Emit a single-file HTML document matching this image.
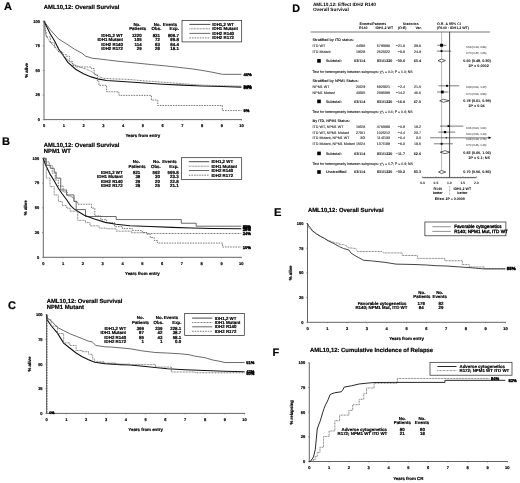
<!DOCTYPE html>
<html><head><meta charset="utf-8"><style>
html,body{margin:0;padding:0;background:#fff;width:520px;height:483px;overflow:hidden}
svg text{stroke-width:0.18px;}
svg{display:block;font-family:"Liberation Sans",sans-serif;will-change:transform;text-rendering:geometricPrecision}
</style></head><body>
<svg width="520" height="483" viewBox="0 0 520 483">
<rect width="520" height="483" fill="#fff"/>
<text x="4.10" y="10.10" font-size="11" text-anchor="start" font-weight="bold" fill="#000" stroke="#000" >A</text>
<text x="43.80" y="9.02" font-size="5.9" text-anchor="start" font-weight="bold" fill="#000" stroke="#000" >AML10,12: Overall Survival</text>
<line x1="44.00" y1="20.70" x2="44.00" y2="119.60" stroke="#666" stroke-width="1.0" />
<line x1="44.00" y1="119.60" x2="242.00" y2="119.60" stroke="#666" stroke-width="1.0" />
<line x1="42.70" y1="119.60" x2="44.00" y2="119.60" stroke="#666" stroke-width="0.6" />
<text x="40.00" y="121.04" font-size="4.0" text-anchor="end" font-weight="bold" fill="#000" stroke="#000" >0</text>
<line x1="42.70" y1="95.00" x2="44.00" y2="95.00" stroke="#666" stroke-width="0.6" />
<text x="40.00" y="96.44" font-size="4.0" text-anchor="end" font-weight="bold" fill="#000" stroke="#000" >25</text>
<line x1="42.70" y1="70.40" x2="44.00" y2="70.40" stroke="#666" stroke-width="0.6" />
<text x="40.00" y="71.84" font-size="4.0" text-anchor="end" font-weight="bold" fill="#000" stroke="#000" >50</text>
<line x1="42.70" y1="45.80" x2="44.00" y2="45.80" stroke="#666" stroke-width="0.6" />
<text x="40.00" y="47.24" font-size="4.0" text-anchor="end" font-weight="bold" fill="#000" stroke="#000" >75</text>
<line x1="42.70" y1="21.20" x2="44.00" y2="21.20" stroke="#666" stroke-width="0.6" />
<text x="40.00" y="22.64" font-size="4.0" text-anchor="end" font-weight="bold" fill="#000" stroke="#000" >100</text>
<line x1="44.00" y1="119.60" x2="44.00" y2="120.60" stroke="#666" stroke-width="0.6" />
<text x="44.00" y="127.04" font-size="4.0" text-anchor="middle" font-weight="bold" fill="#000" stroke="#000" >0</text>
<line x1="63.75" y1="119.60" x2="63.75" y2="120.60" stroke="#666" stroke-width="0.6" />
<text x="63.75" y="127.04" font-size="4.0" text-anchor="middle" font-weight="bold" fill="#000" stroke="#000" >1</text>
<line x1="83.50" y1="119.60" x2="83.50" y2="120.60" stroke="#666" stroke-width="0.6" />
<text x="83.50" y="127.04" font-size="4.0" text-anchor="middle" font-weight="bold" fill="#000" stroke="#000" >2</text>
<line x1="103.25" y1="119.60" x2="103.25" y2="120.60" stroke="#666" stroke-width="0.6" />
<text x="103.25" y="127.04" font-size="4.0" text-anchor="middle" font-weight="bold" fill="#000" stroke="#000" >3</text>
<line x1="123.00" y1="119.60" x2="123.00" y2="120.60" stroke="#666" stroke-width="0.6" />
<text x="123.00" y="127.04" font-size="4.0" text-anchor="middle" font-weight="bold" fill="#000" stroke="#000" >4</text>
<line x1="142.75" y1="119.60" x2="142.75" y2="120.60" stroke="#666" stroke-width="0.6" />
<text x="142.75" y="127.04" font-size="4.0" text-anchor="middle" font-weight="bold" fill="#000" stroke="#000" >5</text>
<line x1="162.50" y1="119.60" x2="162.50" y2="120.60" stroke="#666" stroke-width="0.6" />
<text x="162.50" y="127.04" font-size="4.0" text-anchor="middle" font-weight="bold" fill="#000" stroke="#000" >6</text>
<line x1="182.25" y1="119.60" x2="182.25" y2="120.60" stroke="#666" stroke-width="0.6" />
<text x="182.25" y="127.04" font-size="4.0" text-anchor="middle" font-weight="bold" fill="#000" stroke="#000" >7</text>
<line x1="202.00" y1="119.60" x2="202.00" y2="120.60" stroke="#666" stroke-width="0.6" />
<text x="202.00" y="127.04" font-size="4.0" text-anchor="middle" font-weight="bold" fill="#000" stroke="#000" >8</text>
<line x1="221.75" y1="119.60" x2="221.75" y2="120.60" stroke="#666" stroke-width="0.6" />
<text x="221.75" y="127.04" font-size="4.0" text-anchor="middle" font-weight="bold" fill="#000" stroke="#000" >9</text>
<line x1="241.50" y1="119.60" x2="241.50" y2="120.60" stroke="#666" stroke-width="0.6" />
<text x="241.50" y="127.04" font-size="4.0" text-anchor="middle" font-weight="bold" fill="#000" stroke="#000" >10</text>
<text x="26.60" y="70.40" font-size="4.4" font-weight="bold" stroke="#000" text-anchor="middle" transform="rotate(-90 26.60 70.40)" dy="1.5">% alive</text>
<text x="142.75" y="137.38" font-size="4.4" text-anchor="middle" font-weight="bold" fill="#000" stroke="#000" >Years from entry</text>
<polyline points="44.00,21.20 50.32,29.86 58.62,39.01 66.71,44.03 74.61,49.24 81.92,53.18 85.47,56.13 92.39,58.30 96.93,58.69 108.38,60.07 120.83,61.54 131.10,62.53 151.44,64.59 166.45,65.97 182.25,67.74 192.12,68.92 202.00,70.40 213.06,72.37 222.34,74.34 241.50,74.34" fill="none" stroke="#3a3a3a" stroke-width="0.75" />
<polyline points="44.00,21.20 50.32,34.09 54.47,40.68 58.62,49.05 62.76,54.75 67.90,62.33 75.60,69.22 83.50,73.84 91.20,76.89 98.91,79.16 106.61,80.54 122.01,81.52 140.78,82.80 162.50,84.18 182.25,85.16 202.00,85.95 221.75,86.54 241.50,87.13" fill="none" stroke="#111" stroke-width="1.1" />
<polyline points="44.00,21.20 45.19,31.04 46.17,35.96 50.32,42.36 54.47,46.49 58.62,51.51 63.75,55.64 67.70,59.58 73.62,64.50 79.55,66.96 85.47,68.92 91.40,71.38 95.35,74.34 99.30,76.80 103.25,78.27 113.12,78.96 126.95,79.26 142.75,80.73 162.50,82.21 182.25,83.68 202.00,85.16 221.75,85.65 241.50,86.14" fill="none" stroke="#777" stroke-width="1.0" stroke-dasharray="0.9 0.6"/>
<polyline points="44.00,21.20 45.19,21.20 45.19,31.04 46.17,31.04 46.17,36.94 50.32,36.94 50.32,42.85 54.47,42.85 54.47,47.28 58.62,47.28 58.62,51.70 62.76,51.70 62.76,54.66 66.32,54.66 66.32,56.23 69.67,56.23 69.67,61.54 72.64,61.54 72.64,65.48 75.60,65.48 75.60,66.96 91.20,66.96 91.20,68.53 94.16,68.53 94.16,74.63 97.33,74.63 97.33,80.83 98.91,80.83 98.91,85.36 106.61,85.36 106.61,86.14 106.61,86.14 106.61,91.75 117.47,91.75 117.47,92.34 119.05,92.34 119.05,95.39 151.44,95.39 151.44,95.39 151.44,95.39 151.44,100.02 157.76,100.02 157.76,100.02 157.76,100.02 157.76,105.53 222.34,105.53 222.34,105.53 222.34,105.53 222.34,110.55 241.50,110.55 241.50,110.55" fill="none" stroke="#444" stroke-width="0.7" stroke-dasharray="1.6 1"/>
<text x="243.50" y="75.68" font-size="4.1" text-anchor="start" font-weight="bold" fill="#000" stroke="#000" style="stroke-width:0.35px">46%</text>
<text x="243.50" y="87.68" font-size="4.1" text-anchor="start" font-weight="bold" fill="#000" stroke="#000" style="stroke-width:0.35px">34%</text>
<text x="243.50" y="89.08" font-size="4.1" text-anchor="start" font-weight="bold" fill="#000" stroke="#000" style="stroke-width:0.35px">33%</text>
<text x="243.50" y="111.78" font-size="4.1" text-anchor="start" font-weight="bold" fill="#000" stroke="#000" style="stroke-width:0.35px">9%</text>
<text x="137.00" y="26.18" font-size="4.4" text-anchor="middle" font-weight="bold" fill="#000" stroke="#000" >No.</text>
<text x="137.70" y="30.38" font-size="4.4" text-anchor="middle" font-weight="bold" fill="#000" stroke="#000" >Patients</text>
<text x="157.20" y="26.18" font-size="4.4" text-anchor="middle" font-weight="bold" fill="#000" stroke="#000" >No.</text>
<text x="156.50" y="30.38" font-size="4.4" text-anchor="middle" font-weight="bold" fill="#000" stroke="#000" >Obs.</text>
<text x="170.00" y="26.18" font-size="4.4" text-anchor="middle" font-weight="bold" fill="#000" stroke="#000" >Events</text>
<text x="178.90" y="30.38" font-size="4.4" text-anchor="end" font-weight="bold" fill="#000" stroke="#000" >Exp.</text>
<text x="123.00" y="36.88" font-size="4.4" text-anchor="end" font-weight="bold" fill="#000" stroke="#000" >IDH1,2 WT</text>
<text x="141.70" y="36.88" font-size="4.4" text-anchor="end" font-weight="bold" fill="#000" stroke="#000" >1220</text>
<text x="160.00" y="36.88" font-size="4.4" text-anchor="end" font-weight="bold" fill="#000" stroke="#000" >831</text>
<text x="178.90" y="36.88" font-size="4.4" text-anchor="end" font-weight="bold" fill="#000" stroke="#000" >809.7</text>
<text x="123.00" y="41.21" font-size="4.4" text-anchor="end" font-weight="bold" fill="#000" stroke="#000" >IDH1 Mutant</text>
<text x="141.70" y="41.21" font-size="4.4" text-anchor="end" font-weight="bold" fill="#000" stroke="#000" >105</text>
<text x="160.00" y="41.21" font-size="4.4" text-anchor="end" font-weight="bold" fill="#000" stroke="#000" >72</text>
<text x="178.90" y="41.21" font-size="4.4" text-anchor="end" font-weight="bold" fill="#000" stroke="#000" >69.8</text>
<text x="123.00" y="45.54" font-size="4.4" text-anchor="end" font-weight="bold" fill="#000" stroke="#000" >IDH2 R140</text>
<text x="141.70" y="45.54" font-size="4.4" text-anchor="end" font-weight="bold" fill="#000" stroke="#000" >114</text>
<text x="160.00" y="45.54" font-size="4.4" text-anchor="end" font-weight="bold" fill="#000" stroke="#000" >63</text>
<text x="178.90" y="45.54" font-size="4.4" text-anchor="end" font-weight="bold" fill="#000" stroke="#000" >84.4</text>
<text x="123.00" y="49.87" font-size="4.4" text-anchor="end" font-weight="bold" fill="#000" stroke="#000" >IDH2 R172</text>
<text x="141.70" y="49.87" font-size="4.4" text-anchor="end" font-weight="bold" fill="#000" stroke="#000" >29</text>
<text x="160.00" y="49.87" font-size="4.4" text-anchor="end" font-weight="bold" fill="#000" stroke="#000" >26</text>
<text x="178.90" y="49.87" font-size="4.4" text-anchor="end" font-weight="bold" fill="#000" stroke="#000" >18.1</text>
<rect x="182.00" y="20.40" width="59.70" height="21.50" fill="none" stroke="#222" stroke-width="0.7"/>
<line x1="189.40" y1="24.40" x2="210.30" y2="24.40" stroke="#333" stroke-width="0.9" />
<text x="212.30" y="25.98" font-size="4.4" text-anchor="start" font-weight="bold" fill="#000" stroke="#000" >IDH1,2 WT</text>
<line x1="189.40" y1="28.80" x2="210.30" y2="28.80" stroke="#777" stroke-width="1.0" stroke-dasharray="0.9 0.6"/>
<text x="212.30" y="30.38" font-size="4.4" text-anchor="start" font-weight="bold" fill="#000" stroke="#000" >IDH1 Mutant</text>
<line x1="189.40" y1="33.40" x2="210.30" y2="33.40" stroke="#3a3a3a" stroke-width="0.75" />
<text x="212.30" y="34.98" font-size="4.4" text-anchor="start" font-weight="bold" fill="#000" stroke="#000" >IDH2 R140</text>
<line x1="189.40" y1="37.90" x2="210.30" y2="37.90" stroke="#444" stroke-width="0.7" stroke-dasharray="1.6 1"/>
<text x="212.30" y="39.48" font-size="4.4" text-anchor="start" font-weight="bold" fill="#000" stroke="#000" >IDH2 R172</text>
<text x="2.10" y="145.40" font-size="11" text-anchor="start" font-weight="bold" fill="#000" stroke="#000" >B</text>
<text x="43.75" y="147.12" font-size="5.9" text-anchor="start" font-weight="bold" fill="#000" stroke="#000" >AML10,12: Overall Survival</text>
<text x="43.75" y="153.02" font-size="5.9" text-anchor="start" font-weight="bold" fill="#000" stroke="#000" >NPM1 WT</text>
<line x1="43.30" y1="157.80" x2="43.30" y2="257.30" stroke="#666" stroke-width="1.0" />
<line x1="43.30" y1="257.30" x2="241.80" y2="257.30" stroke="#666" stroke-width="1.0" />
<line x1="42.00" y1="257.30" x2="43.30" y2="257.30" stroke="#666" stroke-width="0.6" />
<text x="39.30" y="258.74" font-size="4.0" text-anchor="end" font-weight="bold" fill="#000" stroke="#000" >0</text>
<line x1="42.00" y1="232.55" x2="43.30" y2="232.55" stroke="#666" stroke-width="0.6" />
<text x="39.30" y="233.99" font-size="4.0" text-anchor="end" font-weight="bold" fill="#000" stroke="#000" >25</text>
<line x1="42.00" y1="207.80" x2="43.30" y2="207.80" stroke="#666" stroke-width="0.6" />
<text x="39.30" y="209.24" font-size="4.0" text-anchor="end" font-weight="bold" fill="#000" stroke="#000" >50</text>
<line x1="42.00" y1="183.05" x2="43.30" y2="183.05" stroke="#666" stroke-width="0.6" />
<text x="39.30" y="184.49" font-size="4.0" text-anchor="end" font-weight="bold" fill="#000" stroke="#000" >75</text>
<line x1="42.00" y1="158.30" x2="43.30" y2="158.30" stroke="#666" stroke-width="0.6" />
<text x="39.30" y="159.74" font-size="4.0" text-anchor="end" font-weight="bold" fill="#000" stroke="#000" >100</text>
<line x1="43.30" y1="257.30" x2="43.30" y2="258.30" stroke="#666" stroke-width="0.6" />
<text x="43.30" y="264.74" font-size="4.0" text-anchor="middle" font-weight="bold" fill="#000" stroke="#000" >0</text>
<line x1="63.10" y1="257.30" x2="63.10" y2="258.30" stroke="#666" stroke-width="0.6" />
<text x="63.10" y="264.74" font-size="4.0" text-anchor="middle" font-weight="bold" fill="#000" stroke="#000" >1</text>
<line x1="82.90" y1="257.30" x2="82.90" y2="258.30" stroke="#666" stroke-width="0.6" />
<text x="82.90" y="264.74" font-size="4.0" text-anchor="middle" font-weight="bold" fill="#000" stroke="#000" >2</text>
<line x1="102.70" y1="257.30" x2="102.70" y2="258.30" stroke="#666" stroke-width="0.6" />
<text x="102.70" y="264.74" font-size="4.0" text-anchor="middle" font-weight="bold" fill="#000" stroke="#000" >3</text>
<line x1="122.50" y1="257.30" x2="122.50" y2="258.30" stroke="#666" stroke-width="0.6" />
<text x="122.50" y="264.74" font-size="4.0" text-anchor="middle" font-weight="bold" fill="#000" stroke="#000" >4</text>
<line x1="142.30" y1="257.30" x2="142.30" y2="258.30" stroke="#666" stroke-width="0.6" />
<text x="142.30" y="264.74" font-size="4.0" text-anchor="middle" font-weight="bold" fill="#000" stroke="#000" >5</text>
<line x1="162.10" y1="257.30" x2="162.10" y2="258.30" stroke="#666" stroke-width="0.6" />
<text x="162.10" y="264.74" font-size="4.0" text-anchor="middle" font-weight="bold" fill="#000" stroke="#000" >6</text>
<line x1="181.90" y1="257.30" x2="181.90" y2="258.30" stroke="#666" stroke-width="0.6" />
<text x="181.90" y="264.74" font-size="4.0" text-anchor="middle" font-weight="bold" fill="#000" stroke="#000" >7</text>
<line x1="201.70" y1="257.30" x2="201.70" y2="258.30" stroke="#666" stroke-width="0.6" />
<text x="201.70" y="264.74" font-size="4.0" text-anchor="middle" font-weight="bold" fill="#000" stroke="#000" >8</text>
<line x1="221.50" y1="257.30" x2="221.50" y2="258.30" stroke="#666" stroke-width="0.6" />
<text x="221.50" y="264.74" font-size="4.0" text-anchor="middle" font-weight="bold" fill="#000" stroke="#000" >9</text>
<line x1="241.30" y1="257.30" x2="241.30" y2="258.30" stroke="#666" stroke-width="0.6" />
<text x="241.30" y="264.74" font-size="4.0" text-anchor="middle" font-weight="bold" fill="#000" stroke="#000" >10</text>
<text x="25.90" y="207.80" font-size="4.4" font-weight="bold" stroke="#000" text-anchor="middle" transform="rotate(-90 25.90 207.80)" dy="1.5">% alive</text>
<text x="142.30" y="275.08" font-size="4.4" text-anchor="middle" font-weight="bold" fill="#000" stroke="#000" >Years from entry</text>
<polyline points="43.30,158.30 46.27,158.30 46.27,158.30 46.27,158.30 46.27,165.23 50.23,165.23 50.23,168.20 54.19,168.20 54.19,172.16 56.17,172.16 56.17,178.10 60.72,178.10 60.72,186.02 60.72,186.02 60.72,189.98 66.66,189.98 66.66,189.98 66.66,189.98 66.66,194.93 73.99,194.93 73.99,194.93 73.99,194.93 73.99,201.37 76.17,201.37 76.17,201.37 76.17,201.37 76.17,209.58 85.47,209.58 85.47,209.58 85.47,209.58 85.47,216.51 116.16,216.51 116.16,216.51 116.16,216.51 116.16,219.58 181.31,219.58 181.31,219.58 181.31,219.58 181.31,223.24 196.16,223.24 196.16,223.24 196.16,223.24 196.16,226.21 241.30,226.21 241.30,226.21" fill="none" stroke="#3a3a3a" stroke-width="0.75" />
<polyline points="43.30,158.30 45.28,164.24 50.03,174.14 54.19,180.77 58.35,188.20 62.31,194.04 66.66,199.78 70.62,205.62 73.99,208.89 79.34,212.25 84.29,215.23 94.38,219.09 105.27,222.35 116.16,224.23 130.02,225.72 150.02,226.51 172.00,227.40 191.80,228.00 211.60,228.49 241.30,228.79" fill="none" stroke="#111" stroke-width="1.1" />
<polyline points="43.30,158.30 45.68,158.30 45.68,161.27 46.27,161.27 46.27,178.10 50.03,178.10 50.03,186.61 54.19,186.61 54.19,194.93 58.35,194.93 58.35,201.46 62.31,201.46 62.31,205.62 66.66,205.62 66.66,208.10 70.03,208.10 70.03,211.17 77.75,211.17 77.75,220.37 85.47,220.37 85.47,222.65 90.03,222.65 90.03,225.82 99.14,225.82 99.14,228.10 106.86,228.10 106.86,228.79 116.16,228.79 116.16,231.16 131.41,231.16 131.41,232.75 146.85,232.75 146.85,233.54 241.30,233.54 241.30,233.54" fill="none" stroke="#777" stroke-width="1.0" stroke-dasharray="0.9 0.6"/>
<polyline points="43.30,158.30 45.28,158.30 45.28,161.86 49.24,161.86 49.24,165.43 52.21,165.43 52.21,173.15 55.18,173.15 55.18,180.08 58.35,180.08 58.35,186.02 63.10,186.02 63.10,191.96 67.06,191.96 67.06,195.92 71.02,195.92 71.02,197.31 73.99,197.31 73.99,201.37 77.75,201.37 77.75,204.24 91.41,204.24 91.41,204.24 91.41,204.24 91.41,208.10 94.78,208.10 94.78,208.10 94.78,208.10 94.78,215.82 100.72,215.82 100.72,219.68 106.66,219.68 106.66,222.65 114.58,222.65 114.58,226.61 122.50,226.61 122.50,228.59 132.40,228.59 132.40,230.57 142.30,230.57 142.30,232.55 146.85,232.55 146.85,234.23 150.22,234.23 150.22,237.50 154.18,237.50 154.18,240.47 157.55,240.47 157.55,243.04 222.49,243.04 222.49,243.04 222.49,243.04 222.49,247.00 241.30,247.00 241.30,247.00" fill="none" stroke="#444" stroke-width="0.7" stroke-dasharray="1.6 1"/>
<text x="242.70" y="227.68" font-size="4.1" text-anchor="start" font-weight="bold" fill="#000" stroke="#000" style="stroke-width:0.35px">32%</text>
<text x="242.70" y="229.38" font-size="4.1" text-anchor="start" font-weight="bold" fill="#000" stroke="#000" style="stroke-width:0.35px">29%</text>
<text x="242.70" y="230.78" font-size="4.1" text-anchor="start" font-weight="bold" fill="#000" stroke="#000" style="stroke-width:0.35px">28%</text>
<text x="242.70" y="235.18" font-size="4.1" text-anchor="start" font-weight="bold" fill="#000" stroke="#000" style="stroke-width:0.35px">24%</text>
<text x="242.70" y="248.98" font-size="4.1" text-anchor="start" font-weight="bold" fill="#000" stroke="#000" style="stroke-width:0.35px">10%</text>
<text x="136.40" y="163.48" font-size="4.4" text-anchor="middle" font-weight="bold" fill="#000" stroke="#000" >No.</text>
<text x="137.10" y="167.78" font-size="4.4" text-anchor="middle" font-weight="bold" fill="#000" stroke="#000" >Patients</text>
<text x="156.60" y="163.48" font-size="4.4" text-anchor="middle" font-weight="bold" fill="#000" stroke="#000" >No.</text>
<text x="155.90" y="167.78" font-size="4.4" text-anchor="middle" font-weight="bold" fill="#000" stroke="#000" >Obs.</text>
<text x="169.40" y="163.48" font-size="4.4" text-anchor="middle" font-weight="bold" fill="#000" stroke="#000" >Events</text>
<text x="178.60" y="167.78" font-size="4.4" text-anchor="end" font-weight="bold" fill="#000" stroke="#000" >Exp.</text>
<text x="122.70" y="173.88" font-size="4.4" text-anchor="end" font-weight="bold" fill="#000" stroke="#000" >IDH1,2 WT</text>
<text x="140.30" y="173.88" font-size="4.4" text-anchor="end" font-weight="bold" fill="#000" stroke="#000" >821</text>
<text x="159.90" y="173.88" font-size="4.4" text-anchor="end" font-weight="bold" fill="#000" stroke="#000" >592</text>
<text x="178.60" y="173.88" font-size="4.4" text-anchor="end" font-weight="bold" fill="#000" stroke="#000" >599.8</text>
<text x="122.70" y="178.21" font-size="4.4" text-anchor="end" font-weight="bold" fill="#000" stroke="#000" >IDH1 Mutant</text>
<text x="140.30" y="178.21" font-size="4.4" text-anchor="end" font-weight="bold" fill="#000" stroke="#000" >38</text>
<text x="159.90" y="178.21" font-size="4.4" text-anchor="end" font-weight="bold" fill="#000" stroke="#000" >30</text>
<text x="178.60" y="178.21" font-size="4.4" text-anchor="end" font-weight="bold" fill="#000" stroke="#000" >23.3</text>
<text x="122.70" y="182.54" font-size="4.4" text-anchor="end" font-weight="bold" fill="#000" stroke="#000" >IDH2 R140</text>
<text x="140.30" y="182.54" font-size="4.4" text-anchor="end" font-weight="bold" fill="#000" stroke="#000" >29</text>
<text x="159.90" y="182.54" font-size="4.4" text-anchor="end" font-weight="bold" fill="#000" stroke="#000" >20</text>
<text x="178.60" y="182.54" font-size="4.4" text-anchor="end" font-weight="bold" fill="#000" stroke="#000" >22.8</text>
<text x="122.70" y="186.87" font-size="4.4" text-anchor="end" font-weight="bold" fill="#000" stroke="#000" >IDH2 R172</text>
<text x="140.30" y="186.87" font-size="4.4" text-anchor="end" font-weight="bold" fill="#000" stroke="#000" >28</text>
<text x="159.90" y="186.87" font-size="4.4" text-anchor="end" font-weight="bold" fill="#000" stroke="#000" >25</text>
<text x="178.60" y="186.87" font-size="4.4" text-anchor="end" font-weight="bold" fill="#000" stroke="#000" >21.1</text>
<rect x="181.40" y="157.70" width="60.30" height="21.90" fill="none" stroke="#222" stroke-width="0.7"/>
<line x1="188.80" y1="161.70" x2="209.20" y2="161.70" stroke="#333" stroke-width="0.9" />
<text x="211.40" y="163.28" font-size="4.4" text-anchor="start" font-weight="bold" fill="#000" stroke="#000" >IDH1,2 WT</text>
<line x1="188.80" y1="166.20" x2="209.20" y2="166.20" stroke="#777" stroke-width="1.0" stroke-dasharray="0.9 0.6"/>
<text x="211.40" y="167.78" font-size="4.4" text-anchor="start" font-weight="bold" fill="#000" stroke="#000" >IDH1 Mutant</text>
<line x1="188.80" y1="170.50" x2="209.20" y2="170.50" stroke="#3a3a3a" stroke-width="0.75" />
<text x="211.40" y="172.08" font-size="4.4" text-anchor="start" font-weight="bold" fill="#000" stroke="#000" >IDH2 R140</text>
<line x1="188.80" y1="175.20" x2="209.20" y2="175.20" stroke="#444" stroke-width="0.7" stroke-dasharray="1.6 1"/>
<text x="211.40" y="176.78" font-size="4.4" text-anchor="start" font-weight="bold" fill="#000" stroke="#000" >IDH2 R172</text>
<text x="8.10" y="309.40" font-size="11" text-anchor="start" font-weight="bold" fill="#000" stroke="#000" >C</text>
<text x="46.70" y="303.12" font-size="5.9" text-anchor="start" font-weight="bold" fill="#000" stroke="#000" >AML10,12: Overall Survival</text>
<text x="46.70" y="309.12" font-size="5.9" text-anchor="start" font-weight="bold" fill="#000" stroke="#000" >NPM1 Mutant</text>
<line x1="46.60" y1="314.30" x2="46.60" y2="413.40" stroke="#666" stroke-width="1.0" />
<line x1="46.60" y1="413.40" x2="245.10" y2="413.40" stroke="#666" stroke-width="1.0" />
<line x1="45.30" y1="413.40" x2="46.60" y2="413.40" stroke="#666" stroke-width="0.6" />
<text x="42.60" y="414.84" font-size="4.0" text-anchor="end" font-weight="bold" fill="#000" stroke="#000" >0</text>
<line x1="45.30" y1="388.75" x2="46.60" y2="388.75" stroke="#666" stroke-width="0.6" />
<text x="42.60" y="390.19" font-size="4.0" text-anchor="end" font-weight="bold" fill="#000" stroke="#000" >25</text>
<line x1="45.30" y1="364.10" x2="46.60" y2="364.10" stroke="#666" stroke-width="0.6" />
<text x="42.60" y="365.54" font-size="4.0" text-anchor="end" font-weight="bold" fill="#000" stroke="#000" >50</text>
<line x1="45.30" y1="339.45" x2="46.60" y2="339.45" stroke="#666" stroke-width="0.6" />
<text x="42.60" y="340.89" font-size="4.0" text-anchor="end" font-weight="bold" fill="#000" stroke="#000" >75</text>
<line x1="45.30" y1="314.80" x2="46.60" y2="314.80" stroke="#666" stroke-width="0.6" />
<text x="42.60" y="316.24" font-size="4.0" text-anchor="end" font-weight="bold" fill="#000" stroke="#000" >100</text>
<line x1="46.60" y1="413.40" x2="46.60" y2="414.40" stroke="#666" stroke-width="0.6" />
<text x="46.60" y="420.84" font-size="4.0" text-anchor="middle" font-weight="bold" fill="#000" stroke="#000" >0</text>
<line x1="66.40" y1="413.40" x2="66.40" y2="414.40" stroke="#666" stroke-width="0.6" />
<text x="66.40" y="420.84" font-size="4.0" text-anchor="middle" font-weight="bold" fill="#000" stroke="#000" >1</text>
<line x1="86.20" y1="413.40" x2="86.20" y2="414.40" stroke="#666" stroke-width="0.6" />
<text x="86.20" y="420.84" font-size="4.0" text-anchor="middle" font-weight="bold" fill="#000" stroke="#000" >2</text>
<line x1="106.00" y1="413.40" x2="106.00" y2="414.40" stroke="#666" stroke-width="0.6" />
<text x="106.00" y="420.84" font-size="4.0" text-anchor="middle" font-weight="bold" fill="#000" stroke="#000" >3</text>
<line x1="125.80" y1="413.40" x2="125.80" y2="414.40" stroke="#666" stroke-width="0.6" />
<text x="125.80" y="420.84" font-size="4.0" text-anchor="middle" font-weight="bold" fill="#000" stroke="#000" >4</text>
<line x1="145.60" y1="413.40" x2="145.60" y2="414.40" stroke="#666" stroke-width="0.6" />
<text x="145.60" y="420.84" font-size="4.0" text-anchor="middle" font-weight="bold" fill="#000" stroke="#000" >5</text>
<line x1="165.40" y1="413.40" x2="165.40" y2="414.40" stroke="#666" stroke-width="0.6" />
<text x="165.40" y="420.84" font-size="4.0" text-anchor="middle" font-weight="bold" fill="#000" stroke="#000" >6</text>
<line x1="185.20" y1="413.40" x2="185.20" y2="414.40" stroke="#666" stroke-width="0.6" />
<text x="185.20" y="420.84" font-size="4.0" text-anchor="middle" font-weight="bold" fill="#000" stroke="#000" >7</text>
<line x1="205.00" y1="413.40" x2="205.00" y2="414.40" stroke="#666" stroke-width="0.6" />
<text x="205.00" y="420.84" font-size="4.0" text-anchor="middle" font-weight="bold" fill="#000" stroke="#000" >8</text>
<line x1="224.80" y1="413.40" x2="224.80" y2="414.40" stroke="#666" stroke-width="0.6" />
<text x="224.80" y="420.84" font-size="4.0" text-anchor="middle" font-weight="bold" fill="#000" stroke="#000" >9</text>
<line x1="244.60" y1="413.40" x2="244.60" y2="414.40" stroke="#666" stroke-width="0.6" />
<text x="244.60" y="420.84" font-size="4.0" text-anchor="middle" font-weight="bold" fill="#000" stroke="#000" >10</text>
<text x="29.20" y="364.10" font-size="4.4" font-weight="bold" stroke="#000" text-anchor="middle" transform="rotate(-90 29.20 364.10)" dy="1.5">% alive</text>
<text x="145.60" y="431.18" font-size="4.4" text-anchor="middle" font-weight="bold" fill="#000" stroke="#000" >Years from entry</text>
<polyline points="46.60,314.80 47.00,317.76 51.15,320.72 57.49,327.52 63.63,330.58 69.77,333.73 76.10,336.20 82.24,338.66 88.58,341.22 92.14,341.82 95.90,345.46 105.01,346.84 111.35,347.04 129.96,348.72 141.64,350.79 154.91,352.47 167.38,353.06 180.05,353.75 189.16,354.73 195.10,356.21 205.00,357.69 212.52,359.96 218.86,361.14 225.00,362.52 244.60,362.52" fill="none" stroke="#3a3a3a" stroke-width="0.75" />
<polyline points="46.60,314.80 47.00,319.53 51.15,325.74 57.49,333.14 63.63,343.10 69.77,348.03 76.10,352.96 82.24,356.70 88.58,359.76 94.71,362.33 105.01,363.61 120.85,364.59 129.96,364.99 145.60,366.56 167.38,368.73 185.20,369.72 205.00,370.51 224.80,371.20 244.60,371.79" fill="none" stroke="#111" stroke-width="1.1" />
<polyline points="46.60,314.80 47.00,314.80 47.00,319.73 51.15,319.73 51.15,326.14 57.49,326.14 57.49,333.53 63.63,333.53 63.63,342.90 69.77,342.90 69.77,345.46 76.10,345.46 76.10,350.49 82.24,350.49 82.24,351.68 88.58,351.68 88.58,354.24 92.14,354.24 92.14,355.52 92.73,355.52 92.73,359.17 94.71,359.17 94.71,361.73 104.02,361.73 104.02,363.11 115.90,363.11 115.90,364.10 129.96,364.10 129.96,364.59 155.50,364.59 155.50,367.06 171.34,367.06 171.34,368.04 171.34,368.04 171.34,371.99 195.10,371.99 195.10,372.78 244.60,372.78 244.60,372.97" fill="none" stroke="#777" stroke-width="1.0" stroke-dasharray="0.9 0.6"/>
<line x1="47.00" y1="314.80" x2="47.00" y2="413.40" stroke="#333" stroke-width="0.7" stroke-dasharray="1.6 1"/>
<text x="49.30" y="413.53" font-size="3.7" text-anchor="start" font-weight="bold" fill="#000" stroke="#000" style="stroke-width:0.35px">0%</text>
<text x="246.30" y="363.98" font-size="4.1" text-anchor="start" font-weight="bold" fill="#000" stroke="#000" style="stroke-width:0.35px">51%</text>
<text x="246.30" y="372.78" font-size="4.1" text-anchor="start" font-weight="bold" fill="#000" stroke="#000" style="stroke-width:0.35px">42%</text>
<text x="246.30" y="375.08" font-size="4.1" text-anchor="start" font-weight="bold" fill="#000" stroke="#000" style="stroke-width:0.35px">40%</text>
<text x="140.40" y="319.18" font-size="4.4" text-anchor="middle" font-weight="bold" fill="#000" stroke="#000" >No.</text>
<text x="140.50" y="323.78" font-size="4.4" text-anchor="middle" font-weight="bold" fill="#000" stroke="#000" >Patients</text>
<text x="159.40" y="319.18" font-size="4.4" text-anchor="middle" font-weight="bold" fill="#000" stroke="#000" >No.</text>
<text x="158.50" y="323.78" font-size="4.4" text-anchor="middle" font-weight="bold" fill="#000" stroke="#000" >Obs.</text>
<text x="170.90" y="319.18" font-size="4.4" text-anchor="middle" font-weight="bold" fill="#000" stroke="#000" >Events</text>
<text x="181.50" y="323.78" font-size="4.4" text-anchor="end" font-weight="bold" fill="#000" stroke="#000" >Exp.</text>
<text x="126.10" y="330.08" font-size="4.4" text-anchor="end" font-weight="bold" fill="#000" stroke="#000" >IDH1,2 WT</text>
<text x="144.00" y="330.08" font-size="4.4" text-anchor="end" font-weight="bold" fill="#000" stroke="#000" >399</text>
<text x="162.50" y="330.08" font-size="4.4" text-anchor="end" font-weight="bold" fill="#000" stroke="#000" >239</text>
<text x="181.20" y="330.08" font-size="4.4" text-anchor="end" font-weight="bold" fill="#000" stroke="#000" >228.1</text>
<text x="126.10" y="334.38" font-size="4.4" text-anchor="end" font-weight="bold" fill="#000" stroke="#000" >IDH1 Mutant</text>
<text x="144.00" y="334.38" font-size="4.4" text-anchor="end" font-weight="bold" fill="#000" stroke="#000" >67</text>
<text x="162.50" y="334.38" font-size="4.4" text-anchor="end" font-weight="bold" fill="#000" stroke="#000" >42</text>
<text x="181.20" y="334.38" font-size="4.4" text-anchor="end" font-weight="bold" fill="#000" stroke="#000" >38.7</text>
<text x="126.10" y="338.68" font-size="4.4" text-anchor="end" font-weight="bold" fill="#000" stroke="#000" >IDH2 R140</text>
<text x="144.00" y="338.68" font-size="4.4" text-anchor="end" font-weight="bold" fill="#000" stroke="#000" >85</text>
<text x="162.50" y="338.68" font-size="4.4" text-anchor="end" font-weight="bold" fill="#000" stroke="#000" >43</text>
<text x="181.20" y="338.68" font-size="4.4" text-anchor="end" font-weight="bold" fill="#000" stroke="#000" >58.1</text>
<text x="126.10" y="342.98" font-size="4.4" text-anchor="end" font-weight="bold" fill="#000" stroke="#000" >IDH2 R172</text>
<text x="144.00" y="342.98" font-size="4.4" text-anchor="end" font-weight="bold" fill="#000" stroke="#000" >1</text>
<text x="162.50" y="342.98" font-size="4.4" text-anchor="end" font-weight="bold" fill="#000" stroke="#000" >1</text>
<text x="181.20" y="342.98" font-size="4.4" text-anchor="end" font-weight="bold" fill="#000" stroke="#000" >0.0</text>
<rect x="184.70" y="313.40" width="59.60" height="22.20" fill="none" stroke="#222" stroke-width="0.7"/>
<line x1="192.10" y1="318.10" x2="212.30" y2="318.10" stroke="#333" stroke-width="0.9" />
<text x="214.70" y="319.68" font-size="4.4" text-anchor="start" font-weight="bold" fill="#000" stroke="#000" >IDH1,2 WT</text>
<line x1="192.10" y1="322.50" x2="212.30" y2="322.50" stroke="#777" stroke-width="1.0" stroke-dasharray="0.9 0.6"/>
<text x="214.70" y="324.08" font-size="4.4" text-anchor="start" font-weight="bold" fill="#000" stroke="#000" >IDH1 Mutant</text>
<line x1="192.10" y1="326.80" x2="212.30" y2="326.80" stroke="#3a3a3a" stroke-width="0.75" />
<text x="214.70" y="328.38" font-size="4.4" text-anchor="start" font-weight="bold" fill="#000" stroke="#000" >IDH2 R140</text>
<line x1="192.10" y1="331.30" x2="212.30" y2="331.30" stroke="#444" stroke-width="0.7" stroke-dasharray="1.6 1"/>
<text x="214.70" y="332.88" font-size="4.4" text-anchor="start" font-weight="bold" fill="#000" stroke="#000" >IDH2 R172</text>
<text x="292.20" y="11.70" font-size="10.8" text-anchor="start" font-weight="bold" fill="#000" stroke="#000" >D</text>
<text x="312.90" y="5.91" font-size="4.75" text-anchor="start" font-weight="bold" fill="#000" stroke="none" >AML10,12: Effect IDH2 R140</text>
<text x="312.90" y="10.71" font-size="4.75" text-anchor="start" font-weight="bold" fill="#000" stroke="none" >Overall Survival</text>
<text x="372.90" y="24.80" font-size="3.6" text-anchor="middle" font-weight="bold" fill="#000" stroke="none" >Events/Patients</text>
<text x="358.90" y="28.60" font-size="3.6" text-anchor="start" font-weight="bold" fill="#000" stroke="none" >R140</text>
<text x="375.40" y="28.60" font-size="3.6" text-anchor="start" font-weight="bold" fill="#000" stroke="none" >IDH1,2 WT</text>
<text x="410.80" y="24.80" font-size="3.6" text-anchor="middle" font-weight="bold" fill="#000" stroke="none" >Statistics</text>
<text x="397.70" y="28.60" font-size="3.6" text-anchor="start" font-weight="bold" fill="#000" stroke="none" >(O-E)</text>
<text x="415.40" y="28.60" font-size="3.6" text-anchor="start" font-weight="bold" fill="#000" stroke="none" >Var.</text>
<text x="437.00" y="25.10" font-size="3.6" text-anchor="start" font-weight="bold" fill="#000" stroke="none" >O.R. &amp; 95% CI</text>
<text x="437.00" y="29.30" font-size="3.6" text-anchor="start" font-weight="bold" fill="#000" stroke="none" >(R140 : IDH1,2 WT)</text>
<line x1="310.50" y1="32.00" x2="490.00" y2="32.00" stroke="#555" stroke-width="0.8" />
<line x1="441.60" y1="32.00" x2="441.60" y2="170.50" stroke="#888" stroke-width="0.6" />
<line x1="449.60" y1="31.80" x2="449.60" y2="177.70" stroke="#222" stroke-width="0.8" />
<text x="312.60" y="41.03" font-size="3.7" text-anchor="start" font-weight="bold" fill="#000" stroke="none" >Stratified by ITD status:</text>
<text x="312.60" y="47.41" font-size="3.65" text-anchor="start" font-weight="normal" fill="#333" stroke="#333" style="stroke-width:0.12px">ITD WT</text>
<text x="365.20" y="47.41" font-size="3.65" text-anchor="end" font-weight="normal" fill="#333" stroke="#333" style="stroke-width:0.12px">44/86</text>
<text x="390.00" y="47.41" font-size="3.65" text-anchor="end" font-weight="normal" fill="#333" stroke="#333" style="stroke-width:0.12px">579/896</text>
<text x="405.00" y="47.41" font-size="3.65" text-anchor="end" font-weight="normal" fill="#333" stroke="#333" style="stroke-width:0.12px">−21.6</text>
<text x="421.00" y="47.41" font-size="3.65" text-anchor="end" font-weight="normal" fill="#333" stroke="#333" style="stroke-width:0.12px">39.6</text>
<text x="312.60" y="52.81" font-size="3.65" text-anchor="start" font-weight="normal" fill="#333" stroke="#333" style="stroke-width:0.12px">ITD Mutant</text>
<text x="365.20" y="52.81" font-size="3.65" text-anchor="end" font-weight="normal" fill="#333" stroke="#333" style="stroke-width:0.12px">19/28</text>
<text x="390.00" y="52.81" font-size="3.65" text-anchor="end" font-weight="normal" fill="#333" stroke="#333" style="stroke-width:0.12px">252/322</text>
<text x="405.00" y="52.81" font-size="3.65" text-anchor="end" font-weight="normal" fill="#333" stroke="#333" style="stroke-width:0.12px">−8.8</text>
<text x="421.00" y="52.81" font-size="3.65" text-anchor="end" font-weight="normal" fill="#333" stroke="#333" style="stroke-width:0.12px">24.9</text>
<rect x="317.20" y="59.10" width="3.60" height="3.60" fill="#000"/>
<text x="325.90" y="62.23" font-size="3.7" text-anchor="start" font-weight="bold" fill="#000" stroke="none" >Subtotal:</text>
<text x="365.20" y="62.23" font-size="3.7" text-anchor="end" font-weight="bold" fill="#000" stroke="none" >63/114</text>
<text x="392.30" y="62.23" font-size="3.7" text-anchor="end" font-weight="bold" fill="#000" stroke="none" >831/1220</text>
<text x="405.00" y="62.23" font-size="3.7" text-anchor="end" font-weight="bold" fill="#000" stroke="none" >−30.6</text>
<text x="421.00" y="62.23" font-size="3.7" text-anchor="end" font-weight="bold" fill="#000" stroke="none" >63.4</text>
<text x="312.60" y="72.96" font-size="3.5" text-anchor="start" font-weight="normal" fill="#333" stroke="#333" style="stroke-width:0.12px">Test for heterogeneity between subgroups: χ²₁ = 0.0; P = 1.0; NS</text>
<text x="312.60" y="82.13" font-size="3.7" text-anchor="start" font-weight="bold" fill="#000" stroke="none" >Stratified by NPM1 Status:</text>
<text x="312.60" y="88.41" font-size="3.65" text-anchor="start" font-weight="normal" fill="#333" stroke="#333" style="stroke-width:0.12px">NPM1 WT</text>
<text x="365.20" y="88.41" font-size="3.65" text-anchor="end" font-weight="normal" fill="#333" stroke="#333" style="stroke-width:0.12px">20/29</text>
<text x="390.00" y="88.41" font-size="3.65" text-anchor="end" font-weight="normal" fill="#333" stroke="#333" style="stroke-width:0.12px">592/821</text>
<text x="405.00" y="88.41" font-size="3.65" text-anchor="end" font-weight="normal" fill="#333" stroke="#333" style="stroke-width:0.12px">−2.4</text>
<text x="421.00" y="88.41" font-size="3.65" text-anchor="end" font-weight="normal" fill="#333" stroke="#333" style="stroke-width:0.12px">21.5</text>
<text x="312.60" y="93.81" font-size="3.65" text-anchor="start" font-weight="normal" fill="#333" stroke="#333" style="stroke-width:0.12px">NPM1 Mutant</text>
<text x="365.20" y="93.81" font-size="3.65" text-anchor="end" font-weight="normal" fill="#333" stroke="#333" style="stroke-width:0.12px">43/85</text>
<text x="390.00" y="93.81" font-size="3.65" text-anchor="end" font-weight="normal" fill="#333" stroke="#333" style="stroke-width:0.12px">239/399</text>
<text x="405.00" y="93.81" font-size="3.65" text-anchor="end" font-weight="normal" fill="#333" stroke="#333" style="stroke-width:0.12px">−14.2</text>
<text x="421.00" y="93.81" font-size="3.65" text-anchor="end" font-weight="normal" fill="#333" stroke="#333" style="stroke-width:0.12px">45.5</text>
<rect x="317.20" y="99.60" width="3.60" height="3.60" fill="#000"/>
<text x="325.90" y="102.73" font-size="3.7" text-anchor="start" font-weight="bold" fill="#000" stroke="none" >Subtotal:</text>
<text x="365.20" y="102.73" font-size="3.7" text-anchor="end" font-weight="bold" fill="#000" stroke="none" >63/114</text>
<text x="392.30" y="102.73" font-size="3.7" text-anchor="end" font-weight="bold" fill="#000" stroke="none" >831/1220</text>
<text x="405.00" y="102.73" font-size="3.7" text-anchor="end" font-weight="bold" fill="#000" stroke="none" >−16.6</text>
<text x="421.00" y="102.73" font-size="3.7" text-anchor="end" font-weight="bold" fill="#000" stroke="none" >67.0</text>
<text x="312.60" y="113.26" font-size="3.5" text-anchor="start" font-weight="normal" fill="#333" stroke="#333" style="stroke-width:0.12px">Test for heterogeneity between subgroups: χ²₁ = 0.6; P = 0.4; NS</text>
<text x="312.60" y="121.83" font-size="3.7" text-anchor="start" font-weight="bold" fill="#000" stroke="none" >By ITD, NPM1 Status:</text>
<text x="312.60" y="128.11" font-size="3.65" text-anchor="start" font-weight="normal" fill="#333" stroke="#333" style="stroke-width:0.12px">ITD WT, NPM1 WT</text>
<text x="365.20" y="128.11" font-size="3.65" text-anchor="end" font-weight="normal" fill="#333" stroke="#333" style="stroke-width:0.12px">16/26</text>
<text x="390.00" y="128.11" font-size="3.65" text-anchor="end" font-weight="normal" fill="#333" stroke="#333" style="stroke-width:0.12px">476/688</text>
<text x="405.00" y="128.11" font-size="3.65" text-anchor="end" font-weight="normal" fill="#333" stroke="#333" style="stroke-width:0.12px">−0.9</text>
<text x="421.00" y="128.11" font-size="3.65" text-anchor="end" font-weight="normal" fill="#333" stroke="#333" style="stroke-width:0.12px">18.2</text>
<text x="312.60" y="133.81" font-size="3.65" text-anchor="start" font-weight="normal" fill="#333" stroke="#333" style="stroke-width:0.12px">ITD WT, NPM1 Mutant</text>
<text x="365.20" y="133.81" font-size="3.65" text-anchor="end" font-weight="normal" fill="#333" stroke="#333" style="stroke-width:0.12px">27/61</text>
<text x="390.00" y="133.81" font-size="3.65" text-anchor="end" font-weight="normal" fill="#333" stroke="#333" style="stroke-width:0.12px">102/212</text>
<text x="405.00" y="133.81" font-size="3.65" text-anchor="end" font-weight="normal" fill="#333" stroke="#333" style="stroke-width:0.12px">−4.4</text>
<text x="421.00" y="133.81" font-size="3.65" text-anchor="end" font-weight="normal" fill="#333" stroke="#333" style="stroke-width:0.12px">23.7</text>
<text x="312.60" y="139.41" font-size="3.65" text-anchor="start" font-weight="normal" fill="#333" stroke="#333" style="stroke-width:0.12px">ITD Mutant, NPM1 WT</text>
<text x="365.20" y="139.41" font-size="3.65" text-anchor="end" font-weight="normal" fill="#333" stroke="#333" style="stroke-width:0.12px">3/3</text>
<text x="390.00" y="139.41" font-size="3.65" text-anchor="end" font-weight="normal" fill="#333" stroke="#333" style="stroke-width:0.12px">114/133</text>
<text x="405.00" y="139.41" font-size="3.65" text-anchor="end" font-weight="normal" fill="#333" stroke="#333" style="stroke-width:0.12px">−0.4</text>
<text x="421.00" y="139.41" font-size="3.65" text-anchor="end" font-weight="normal" fill="#333" stroke="#333" style="stroke-width:0.12px">3.0</text>
<text x="312.60" y="145.11" font-size="3.65" text-anchor="start" font-weight="normal" fill="#333" stroke="#333" style="stroke-width:0.12px">ITD Mutant, NPM1 Mutant</text>
<text x="365.20" y="145.11" font-size="3.65" text-anchor="end" font-weight="normal" fill="#333" stroke="#333" style="stroke-width:0.12px">15/24</text>
<text x="390.00" y="145.11" font-size="3.65" text-anchor="end" font-weight="normal" fill="#333" stroke="#333" style="stroke-width:0.12px">137/189</text>
<text x="405.00" y="145.11" font-size="3.65" text-anchor="end" font-weight="normal" fill="#333" stroke="#333" style="stroke-width:0.12px">−6.0</text>
<text x="421.00" y="145.11" font-size="3.65" text-anchor="end" font-weight="normal" fill="#333" stroke="#333" style="stroke-width:0.12px">18.5</text>
<rect x="317.20" y="151.60" width="3.60" height="3.60" fill="#000"/>
<text x="325.90" y="154.73" font-size="3.7" text-anchor="start" font-weight="bold" fill="#000" stroke="none" >Subtotal:</text>
<text x="365.20" y="154.73" font-size="3.7" text-anchor="end" font-weight="bold" fill="#000" stroke="none" >63/114</text>
<text x="392.30" y="154.73" font-size="3.7" text-anchor="end" font-weight="bold" fill="#000" stroke="none" >831/1220</text>
<text x="405.00" y="154.73" font-size="3.7" text-anchor="end" font-weight="bold" fill="#000" stroke="none" >−11.7</text>
<text x="421.00" y="154.73" font-size="3.7" text-anchor="end" font-weight="bold" fill="#000" stroke="none" >62.6</text>
<text x="312.60" y="165.46" font-size="3.5" text-anchor="start" font-weight="normal" fill="#333" stroke="#333" style="stroke-width:0.12px">Test for heterogeneity between subgroups: χ²₃ = 0.7; P = 0.9; NS</text>
<rect x="317.20" y="170.20" width="3.60" height="3.60" fill="#000"/>
<text x="325.90" y="173.33" font-size="3.7" text-anchor="start" font-weight="bold" fill="#000" stroke="none" >Unstratified</text>
<text x="365.20" y="173.33" font-size="3.7" text-anchor="end" font-weight="bold" fill="#000" stroke="none" >63/114</text>
<text x="392.30" y="173.33" font-size="3.7" text-anchor="end" font-weight="bold" fill="#000" stroke="none" >831/1220</text>
<text x="405.00" y="173.33" font-size="3.7" text-anchor="end" font-weight="bold" fill="#000" stroke="none" >−30.2</text>
<text x="421.00" y="173.33" font-size="3.7" text-anchor="end" font-weight="bold" fill="#000" stroke="none" >83.3</text>
<line x1="437.30" y1="45.30" x2="446.50" y2="45.30" stroke="#222" stroke-width="0.6" />
<rect x="440.10" y="43.80" width="3.00" height="3.00" fill="#000"/>
<text x="466.00" y="47.91" font-size="2.8" text-anchor="start" font-weight="bold" fill="#555" stroke="none" >0.58 (0.39, 0.86)</text>
<line x1="436.80" y1="51.10" x2="451.20" y2="51.10" stroke="#222" stroke-width="0.6" />
<rect x="440.55" y="50.15" width="1.90" height="1.90" fill="#000"/>
<text x="466.00" y="53.71" font-size="2.8" text-anchor="start" font-weight="bold" fill="#555" stroke="none" >0.70 (0.47, 1.05)</text>
<polygon points="438.00,60.60 441.60,59.10 445.40,60.60 441.60,62.10" fill="#fff" stroke="#000" stroke-width="0.6"/>
<text x="463.30" y="61.95" font-size="3.75" text-anchor="start" font-weight="bold" fill="#000" stroke="none" >0.60 (0.48, 0.80)</text>
<text x="468.50" y="66.95" font-size="3.75" text-anchor="start" font-weight="bold" fill="#000" stroke="none" >2P = 0.0002</text>
<line x1="438.50" y1="85.80" x2="459.20" y2="85.80" stroke="#222" stroke-width="0.6" />
<rect x="446.05" y="84.85" width="1.90" height="1.90" fill="#000"/>
<text x="466.00" y="88.41" font-size="2.8" text-anchor="start" font-weight="bold" fill="#555" stroke="none" >0.89 (0.56, 1.37)</text>
<line x1="437.00" y1="92.00" x2="448.50" y2="92.00" stroke="#222" stroke-width="0.6" />
<rect x="440.90" y="90.60" width="2.80" height="2.80" fill="#000"/>
<text x="466.00" y="94.61" font-size="2.8" text-anchor="start" font-weight="bold" fill="#555" stroke="none" >0.73 (0.55, 0.96)</text>
<polygon points="439.70,100.80 443.50,99.30 449.20,100.80 443.50,102.30" fill="#fff" stroke="#000" stroke-width="0.6"/>
<text x="463.30" y="102.15" font-size="3.75" text-anchor="start" font-weight="bold" fill="#000" stroke="none" >0.78 (0.61, 0.99)</text>
<text x="468.50" y="107.15" font-size="3.75" text-anchor="start" font-weight="bold" fill="#000" stroke="none" >2P = 0.04</text>
<line x1="440.00" y1="126.10" x2="463.30" y2="126.10" stroke="#222" stroke-width="0.6" />
<rect x="447.55" y="125.15" width="1.90" height="1.90" fill="#000"/>
<text x="466.00" y="128.71" font-size="2.8" text-anchor="start" font-weight="bold" fill="#555" stroke="none" >0.95 (0.60, 1.51)</text>
<line x1="438.20" y1="132.10" x2="455.30" y2="132.10" stroke="#222" stroke-width="0.6" />
<rect x="443.90" y="131.00" width="2.20" height="2.20" fill="#000"/>
<text x="466.00" y="134.71" font-size="2.8" text-anchor="start" font-weight="bold" fill="#555" stroke="none" >0.83 (0.56, 1.24)</text>
<line x1="430.00" y1="137.80" x2="489.50" y2="137.80" stroke="#222" stroke-width="0.6" />
<rect x="445.70" y="137.20" width="1.20" height="1.20" fill="#000"/>
<text x="466.00" y="140.41" font-size="2.8" text-anchor="start" font-weight="bold" fill="#555" stroke="none" >0.88 (0.28, 2.75)</text>
<polygon points="491.5,137.8 488.5,136.5 488.5,139.1" fill="#000"/>
<line x1="434.00" y1="143.80" x2="453.00" y2="143.80" stroke="#222" stroke-width="0.6" />
<rect x="440.65" y="142.85" width="1.90" height="1.90" fill="#000"/>
<text x="466.00" y="146.41" font-size="2.8" text-anchor="start" font-weight="bold" fill="#555" stroke="none" >0.72 (0.45, 1.15)</text>
<polygon points="440.20,152.20 445.00,150.70 450.00,152.20 445.00,153.70" fill="#fff" stroke="#000" stroke-width="0.6"/>
<text x="463.30" y="153.55" font-size="3.75" text-anchor="start" font-weight="bold" fill="#000" stroke="none" >0.83 (0.65, 1.06)</text>
<text x="468.50" y="158.55" font-size="3.75" text-anchor="start" font-weight="bold" fill="#000" stroke="none" >2P = 0.1; NS</text>
<polygon points="438.50,172.00 441.60,170.50 445.70,172.00 441.60,173.50" fill="#fff" stroke="#000" stroke-width="0.6"/>
<text x="463.30" y="173.35" font-size="3.75" text-anchor="start" font-weight="bold" fill="#000" stroke="none" >0.70 (0.56, 0.86)</text>
<line x1="422.50" y1="177.70" x2="476.30" y2="177.70" stroke="#222" stroke-width="0.8" />
<line x1="422.50" y1="177.70" x2="422.50" y2="176.00" stroke="#444" stroke-width="0.4" />
<line x1="425.19" y1="177.70" x2="425.19" y2="176.60" stroke="#444" stroke-width="0.4" />
<line x1="427.88" y1="177.70" x2="427.88" y2="176.60" stroke="#444" stroke-width="0.4" />
<line x1="430.57" y1="177.70" x2="430.57" y2="176.60" stroke="#444" stroke-width="0.4" />
<line x1="433.26" y1="177.70" x2="433.26" y2="176.60" stroke="#444" stroke-width="0.4" />
<line x1="435.95" y1="177.70" x2="435.95" y2="176.00" stroke="#444" stroke-width="0.4" />
<line x1="438.64" y1="177.70" x2="438.64" y2="176.60" stroke="#444" stroke-width="0.4" />
<line x1="441.33" y1="177.70" x2="441.33" y2="176.60" stroke="#444" stroke-width="0.4" />
<line x1="444.02" y1="177.70" x2="444.02" y2="176.60" stroke="#444" stroke-width="0.4" />
<line x1="446.71" y1="177.70" x2="446.71" y2="176.60" stroke="#444" stroke-width="0.4" />
<line x1="449.40" y1="177.70" x2="449.40" y2="176.00" stroke="#444" stroke-width="0.4" />
<line x1="452.09" y1="177.70" x2="452.09" y2="176.60" stroke="#444" stroke-width="0.4" />
<line x1="454.78" y1="177.70" x2="454.78" y2="176.60" stroke="#444" stroke-width="0.4" />
<line x1="457.47" y1="177.70" x2="457.47" y2="176.60" stroke="#444" stroke-width="0.4" />
<line x1="460.16" y1="177.70" x2="460.16" y2="176.60" stroke="#444" stroke-width="0.4" />
<line x1="462.85" y1="177.70" x2="462.85" y2="176.00" stroke="#444" stroke-width="0.4" />
<line x1="465.54" y1="177.70" x2="465.54" y2="176.60" stroke="#444" stroke-width="0.4" />
<line x1="468.23" y1="177.70" x2="468.23" y2="176.60" stroke="#444" stroke-width="0.4" />
<line x1="470.92" y1="177.70" x2="470.92" y2="176.60" stroke="#444" stroke-width="0.4" />
<line x1="473.61" y1="177.70" x2="473.61" y2="176.60" stroke="#444" stroke-width="0.4" />
<line x1="476.30" y1="177.70" x2="476.30" y2="176.00" stroke="#444" stroke-width="0.4" />
<text x="422.50" y="184.02" font-size="3.4" text-anchor="middle" font-weight="bold" fill="#000" stroke="none" >0.0</text>
<text x="435.95" y="184.02" font-size="3.4" text-anchor="middle" font-weight="bold" fill="#000" stroke="none" >0.5</text>
<text x="449.40" y="184.02" font-size="3.4" text-anchor="middle" font-weight="bold" fill="#000" stroke="none" >1.0</text>
<text x="462.85" y="184.02" font-size="3.4" text-anchor="middle" font-weight="bold" fill="#000" stroke="none" >1.5</text>
<text x="476.30" y="184.02" font-size="3.4" text-anchor="middle" font-weight="bold" fill="#000" stroke="none" >2.0</text>
<text x="437.70" y="190.10" font-size="3.6" text-anchor="middle" font-weight="bold" fill="#000" stroke="none" >R140</text>
<text x="437.70" y="194.10" font-size="3.6" text-anchor="middle" font-weight="bold" fill="#000" stroke="none" >better</text>
<text x="462.30" y="190.10" font-size="3.6" text-anchor="middle" font-weight="bold" fill="#000" stroke="none" >IDH1,2 WT</text>
<text x="462.30" y="194.10" font-size="3.6" text-anchor="middle" font-weight="bold" fill="#000" stroke="none" >better</text>
<line x1="449.70" y1="186.30" x2="449.70" y2="194.80" stroke="#444" stroke-width="0.5" stroke-dasharray="0.8 0.5"/>
<text x="449.70" y="199.78" font-size="3.55" text-anchor="middle" font-weight="bold" fill="#000" stroke="none" >Effect 2P = 0.0009</text>
<text x="274.00" y="215.50" font-size="11.2" text-anchor="start" font-weight="bold" fill="#000" stroke="#000" >E</text>
<text x="307.90" y="211.92" font-size="5.9" text-anchor="start" font-weight="bold" fill="#000" stroke="#000" >AML10,12: Overall Survival</text>
<line x1="307.50" y1="223.00" x2="307.50" y2="322.30" stroke="#666" stroke-width="1.0" />
<line x1="307.50" y1="322.30" x2="506.00" y2="322.30" stroke="#666" stroke-width="1.0" />
<line x1="306.20" y1="322.30" x2="307.50" y2="322.30" stroke="#666" stroke-width="0.6" />
<text x="303.50" y="323.74" font-size="4.0" text-anchor="end" font-weight="bold" fill="#000" stroke="#000" >0</text>
<line x1="306.20" y1="297.60" x2="307.50" y2="297.60" stroke="#666" stroke-width="0.6" />
<text x="303.50" y="299.04" font-size="4.0" text-anchor="end" font-weight="bold" fill="#000" stroke="#000" >25</text>
<line x1="306.20" y1="272.90" x2="307.50" y2="272.90" stroke="#666" stroke-width="0.6" />
<text x="303.50" y="274.34" font-size="4.0" text-anchor="end" font-weight="bold" fill="#000" stroke="#000" >50</text>
<line x1="306.20" y1="248.20" x2="307.50" y2="248.20" stroke="#666" stroke-width="0.6" />
<text x="303.50" y="249.64" font-size="4.0" text-anchor="end" font-weight="bold" fill="#000" stroke="#000" >75</text>
<line x1="306.20" y1="223.50" x2="307.50" y2="223.50" stroke="#666" stroke-width="0.6" />
<text x="303.50" y="224.94" font-size="4.0" text-anchor="end" font-weight="bold" fill="#000" stroke="#000" >100</text>
<line x1="307.50" y1="322.30" x2="307.50" y2="323.30" stroke="#666" stroke-width="0.6" />
<text x="307.50" y="329.74" font-size="4.0" text-anchor="middle" font-weight="bold" fill="#000" stroke="#000" >0</text>
<line x1="327.30" y1="322.30" x2="327.30" y2="323.30" stroke="#666" stroke-width="0.6" />
<text x="327.30" y="329.74" font-size="4.0" text-anchor="middle" font-weight="bold" fill="#000" stroke="#000" >1</text>
<line x1="347.10" y1="322.30" x2="347.10" y2="323.30" stroke="#666" stroke-width="0.6" />
<text x="347.10" y="329.74" font-size="4.0" text-anchor="middle" font-weight="bold" fill="#000" stroke="#000" >2</text>
<line x1="366.90" y1="322.30" x2="366.90" y2="323.30" stroke="#666" stroke-width="0.6" />
<text x="366.90" y="329.74" font-size="4.0" text-anchor="middle" font-weight="bold" fill="#000" stroke="#000" >3</text>
<line x1="386.70" y1="322.30" x2="386.70" y2="323.30" stroke="#666" stroke-width="0.6" />
<text x="386.70" y="329.74" font-size="4.0" text-anchor="middle" font-weight="bold" fill="#000" stroke="#000" >4</text>
<line x1="406.50" y1="322.30" x2="406.50" y2="323.30" stroke="#666" stroke-width="0.6" />
<text x="406.50" y="329.74" font-size="4.0" text-anchor="middle" font-weight="bold" fill="#000" stroke="#000" >5</text>
<line x1="426.30" y1="322.30" x2="426.30" y2="323.30" stroke="#666" stroke-width="0.6" />
<text x="426.30" y="329.74" font-size="4.0" text-anchor="middle" font-weight="bold" fill="#000" stroke="#000" >6</text>
<line x1="446.10" y1="322.30" x2="446.10" y2="323.30" stroke="#666" stroke-width="0.6" />
<text x="446.10" y="329.74" font-size="4.0" text-anchor="middle" font-weight="bold" fill="#000" stroke="#000" >7</text>
<line x1="465.90" y1="322.30" x2="465.90" y2="323.30" stroke="#666" stroke-width="0.6" />
<text x="465.90" y="329.74" font-size="4.0" text-anchor="middle" font-weight="bold" fill="#000" stroke="#000" >8</text>
<line x1="485.70" y1="322.30" x2="485.70" y2="323.30" stroke="#666" stroke-width="0.6" />
<text x="485.70" y="329.74" font-size="4.0" text-anchor="middle" font-weight="bold" fill="#000" stroke="#000" >9</text>
<line x1="505.50" y1="322.30" x2="505.50" y2="323.30" stroke="#666" stroke-width="0.6" />
<text x="505.50" y="329.74" font-size="4.0" text-anchor="middle" font-weight="bold" fill="#000" stroke="#000" >10</text>
<text x="290.10" y="272.90" font-size="4.4" font-weight="bold" stroke="#000" text-anchor="middle" transform="rotate(-90 290.10 272.90)" dy="1.5">% alive</text>
<text x="406.50" y="340.08" font-size="4.4" text-anchor="middle" font-weight="bold" fill="#000" stroke="#000" >Years from entry</text>
<polyline points="307.50,223.50 308.49,227.45 312.65,231.40 320.37,236.34 328.09,240.30 331.26,241.48 335.81,243.06 339.18,243.06 339.18,244.64 343.54,244.64 347.10,246.22 348.09,247.71 355.81,248.50 357.40,251.46 381.95,251.46 383.33,252.94 402.34,252.94 402.34,255.51 417.39,255.51 417.39,258.38 444.91,258.38 444.91,260.75 462.34,260.75 462.34,264.60 469.27,264.60 469.27,266.97 484.12,266.97 484.12,268.85 505.50,268.85" fill="none" stroke="#777" stroke-width="1.0" stroke-dasharray="0.9 0.6"/>
<polyline points="307.50,223.50 308.49,225.48 312.65,230.81 316.41,233.87 320.37,236.25 324.33,238.32 328.09,240.79 332.25,242.77 335.81,244.64 339.58,246.72 343.54,248.50 348.88,249.98 351.06,253.14 355.02,255.61 358.78,257.68 363.53,260.25 371.26,260.85 384.92,262.33 396.01,264.11 415.01,264.50 426.30,265.00 436.20,265.69 446.10,265.98 456.00,266.68 465.90,267.37 475.80,268.16 482.93,268.85 505.50,268.85" fill="none" stroke="#222" stroke-width="0.85" />
<text x="506.80" y="270.28" font-size="4.4" text-anchor="start" font-weight="bold" fill="#000" stroke="#000" style="stroke-width:0.45px">55%</text>
<rect x="424.90" y="222.00" width="81.00" height="13.80" fill="none" stroke="#222" stroke-width="0.7"/>
<line x1="432.30" y1="226.70" x2="450.80" y2="226.70" stroke="#999" stroke-width="1.1" />
<line x1="432.30" y1="231.40" x2="450.80" y2="231.40" stroke="#777" stroke-width="0.8" />
<text x="454.20" y="228.46" font-size="4.6" text-anchor="start" font-weight="normal" fill="#000" stroke="#000" style="stroke-width:0.32px">Favorable cytogenetics</text>
<text x="454.20" y="233.16" font-size="4.6" text-anchor="start" font-weight="normal" fill="#000" stroke="#000" style="stroke-width:0.32px">R140; NPM1 Mut, ITD WT</text>
<text x="421.90" y="293.88" font-size="4.4" text-anchor="middle" font-weight="bold" fill="#000" stroke="#000" >No.</text>
<text x="421.90" y="298.48" font-size="4.4" text-anchor="middle" font-weight="bold" fill="#000" stroke="#000" >Patients</text>
<text x="439.70" y="293.88" font-size="4.4" text-anchor="middle" font-weight="bold" fill="#000" stroke="#000" >No.</text>
<text x="439.70" y="298.48" font-size="4.4" text-anchor="middle" font-weight="bold" fill="#000" stroke="#000" >Events</text>
<text x="406.50" y="304.98" font-size="4.4" text-anchor="end" font-weight="bold" fill="#000" stroke="#000" >Favorable cytogenetics</text>
<text x="407.40" y="309.48" font-size="4.4" text-anchor="end" font-weight="bold" fill="#000" stroke="#000" >R140; NPM1 Mut, ITD WT</text>
<text x="421.20" y="304.98" font-size="4.4" text-anchor="middle" font-weight="bold" fill="#000" stroke="#000" >176</text>
<text x="441.00" y="304.98" font-size="4.4" text-anchor="middle" font-weight="bold" fill="#000" stroke="#000" >82</text>
<text x="421.20" y="309.48" font-size="4.4" text-anchor="middle" font-weight="bold" fill="#000" stroke="#000" >64</text>
<text x="441.00" y="309.48" font-size="4.4" text-anchor="middle" font-weight="bold" fill="#000" stroke="#000" >29</text>
<text x="272.40" y="355.50" font-size="11" text-anchor="start" font-weight="bold" fill="#000" stroke="#000" >F</text>
<text x="310.00" y="351.62" font-size="5.9" text-anchor="start" font-weight="bold" fill="#000" stroke="#000" >AML10,12: Cumulative Incidence of Relapse</text>
<line x1="309.30" y1="362.50" x2="309.30" y2="461.50" stroke="#666" stroke-width="1.0" />
<line x1="309.30" y1="461.50" x2="507.80" y2="461.50" stroke="#666" stroke-width="1.0" />
<line x1="308.00" y1="461.50" x2="309.30" y2="461.50" stroke="#666" stroke-width="0.6" />
<text x="305.30" y="462.94" font-size="4.0" text-anchor="end" font-weight="bold" fill="#000" stroke="#000" >0</text>
<line x1="308.00" y1="436.88" x2="309.30" y2="436.88" stroke="#666" stroke-width="0.6" />
<text x="305.30" y="438.31" font-size="4.0" text-anchor="end" font-weight="bold" fill="#000" stroke="#000" >25</text>
<line x1="308.00" y1="412.25" x2="309.30" y2="412.25" stroke="#666" stroke-width="0.6" />
<text x="305.30" y="413.69" font-size="4.0" text-anchor="end" font-weight="bold" fill="#000" stroke="#000" >50</text>
<line x1="308.00" y1="387.62" x2="309.30" y2="387.62" stroke="#666" stroke-width="0.6" />
<text x="305.30" y="389.06" font-size="4.0" text-anchor="end" font-weight="bold" fill="#000" stroke="#000" >75</text>
<line x1="308.00" y1="363.00" x2="309.30" y2="363.00" stroke="#666" stroke-width="0.6" />
<text x="305.30" y="364.44" font-size="4.0" text-anchor="end" font-weight="bold" fill="#000" stroke="#000" >100</text>
<line x1="309.30" y1="461.50" x2="309.30" y2="462.50" stroke="#666" stroke-width="0.6" />
<text x="309.30" y="468.94" font-size="4.0" text-anchor="middle" font-weight="bold" fill="#000" stroke="#000" >0</text>
<line x1="329.10" y1="461.50" x2="329.10" y2="462.50" stroke="#666" stroke-width="0.6" />
<text x="329.10" y="468.94" font-size="4.0" text-anchor="middle" font-weight="bold" fill="#000" stroke="#000" >1</text>
<line x1="348.90" y1="461.50" x2="348.90" y2="462.50" stroke="#666" stroke-width="0.6" />
<text x="348.90" y="468.94" font-size="4.0" text-anchor="middle" font-weight="bold" fill="#000" stroke="#000" >2</text>
<line x1="368.70" y1="461.50" x2="368.70" y2="462.50" stroke="#666" stroke-width="0.6" />
<text x="368.70" y="468.94" font-size="4.0" text-anchor="middle" font-weight="bold" fill="#000" stroke="#000" >3</text>
<line x1="388.50" y1="461.50" x2="388.50" y2="462.50" stroke="#666" stroke-width="0.6" />
<text x="388.50" y="468.94" font-size="4.0" text-anchor="middle" font-weight="bold" fill="#000" stroke="#000" >4</text>
<line x1="408.30" y1="461.50" x2="408.30" y2="462.50" stroke="#666" stroke-width="0.6" />
<text x="408.30" y="468.94" font-size="4.0" text-anchor="middle" font-weight="bold" fill="#000" stroke="#000" >5</text>
<line x1="428.10" y1="461.50" x2="428.10" y2="462.50" stroke="#666" stroke-width="0.6" />
<text x="428.10" y="468.94" font-size="4.0" text-anchor="middle" font-weight="bold" fill="#000" stroke="#000" >6</text>
<line x1="447.90" y1="461.50" x2="447.90" y2="462.50" stroke="#666" stroke-width="0.6" />
<text x="447.90" y="468.94" font-size="4.0" text-anchor="middle" font-weight="bold" fill="#000" stroke="#000" >7</text>
<line x1="467.70" y1="461.50" x2="467.70" y2="462.50" stroke="#666" stroke-width="0.6" />
<text x="467.70" y="468.94" font-size="4.0" text-anchor="middle" font-weight="bold" fill="#000" stroke="#000" >8</text>
<line x1="487.50" y1="461.50" x2="487.50" y2="462.50" stroke="#666" stroke-width="0.6" />
<text x="487.50" y="468.94" font-size="4.0" text-anchor="middle" font-weight="bold" fill="#000" stroke="#000" >9</text>
<line x1="507.30" y1="461.50" x2="507.30" y2="462.50" stroke="#666" stroke-width="0.6" />
<text x="507.30" y="468.94" font-size="4.0" text-anchor="middle" font-weight="bold" fill="#000" stroke="#000" >10</text>
<text x="291.90" y="412.25" font-size="4.4" font-weight="bold" stroke="#000" text-anchor="middle" transform="rotate(-90 291.90 412.25)" dy="1.5">% relapsing</text>
<text x="408.30" y="480.08" font-size="4.4" text-anchor="middle" font-weight="bold" fill="#000" stroke="#000" >Years from CR</text>
<polyline points="309.30,461.50 313.26,461.50 313.26,459.53 315.24,459.53 315.24,456.57 317.22,456.57 317.22,452.44 319.99,452.44 319.99,447.22 323.56,447.22 323.56,436.48 329.10,436.48 329.10,430.96 334.84,430.96 334.84,420.72 339.59,420.72 339.59,415.11 348.90,415.11 348.90,410.38 352.66,410.38 352.66,404.76 359.20,404.76 359.20,399.25 363.75,399.25 363.75,393.63 366.52,393.63 366.52,388.02 374.05,388.02 374.05,383.19 397.41,383.19 397.41,378.46 489.48,378.46" fill="none" stroke="#777" stroke-width="1.0" stroke-dasharray="0.9 0.6"/>
<polyline points="309.30,461.50 310.69,461.20 313.46,456.97 315.24,449.68 316.23,439.83 317.22,429.00 318.61,425.06 319.99,421.61 321.38,417.18 322.76,412.25 324.15,408.31 325.54,404.76 327.12,401.91 328.31,399.25 330.09,394.62 332.07,393.63 334.84,392.75 338.01,392.25 341.38,391.76 342.96,389.60 344.15,387.13 351.67,385.75 359.20,383.98 366.72,383.19 374.05,382.50 392.06,382.40 444.93,382.40 444.93,380.34 505.32,380.34" fill="none" stroke="#111" stroke-width="0.9" />
<text x="491.00" y="379.98" font-size="4.1" text-anchor="start" font-weight="bold" fill="#000" stroke="#000" style="stroke-width:0.35px">84%</text>
<text x="508.50" y="382.08" font-size="4.1" text-anchor="start" font-weight="bold" fill="#000" stroke="#000" style="stroke-width:0.35px">82%</text>
<rect x="430.00" y="362.30" width="82.00" height="12.90" fill="none" stroke="#222" stroke-width="0.7"/>
<line x1="437.40" y1="366.50" x2="456.50" y2="366.50" stroke="#111" stroke-width="0.9" />
<line x1="437.40" y1="370.60" x2="456.50" y2="370.60" stroke="#444" stroke-width="0.8" stroke-dasharray="0.7 0.7"/>
<text x="459.50" y="368.08" font-size="4.4" text-anchor="start" font-weight="bold" fill="#000" stroke="#000" >Adverse cytogenetics</text>
<text x="459.50" y="372.18" font-size="4.4" text-anchor="start" font-weight="bold" fill="#000" stroke="#000" >R172; NPM1 WT ITD WT</text>
<text x="402.30" y="419.88" font-size="4.4" text-anchor="middle" font-weight="bold" fill="#000" stroke="#000" >No.</text>
<text x="402.30" y="424.18" font-size="4.4" text-anchor="middle" font-weight="bold" fill="#000" stroke="#000" >Patients</text>
<text x="422.00" y="419.88" font-size="4.4" text-anchor="middle" font-weight="bold" fill="#000" stroke="#000" >No.</text>
<text x="422.00" y="424.18" font-size="4.4" text-anchor="middle" font-weight="bold" fill="#000" stroke="#000" >Events</text>
<text x="386.90" y="431.28" font-size="4.4" text-anchor="end" font-weight="bold" fill="#000" stroke="#000" >Adverse cytogenetics</text>
<text x="387.30" y="435.28" font-size="4.4" text-anchor="end" font-weight="bold" fill="#000" stroke="#000" >R172; NPM1 WT ITD WT</text>
<text x="402.30" y="431.28" font-size="4.4" text-anchor="middle" font-weight="bold" fill="#000" stroke="#000" >80</text>
<text x="422.50" y="431.28" font-size="4.4" text-anchor="middle" font-weight="bold" fill="#000" stroke="#000" >60</text>
<text x="402.30" y="435.28" font-size="4.4" text-anchor="middle" font-weight="bold" fill="#000" stroke="#000" >21</text>
<text x="422.50" y="435.28" font-size="4.4" text-anchor="middle" font-weight="bold" fill="#000" stroke="#000" >16</text>
</svg>
</body></html>
